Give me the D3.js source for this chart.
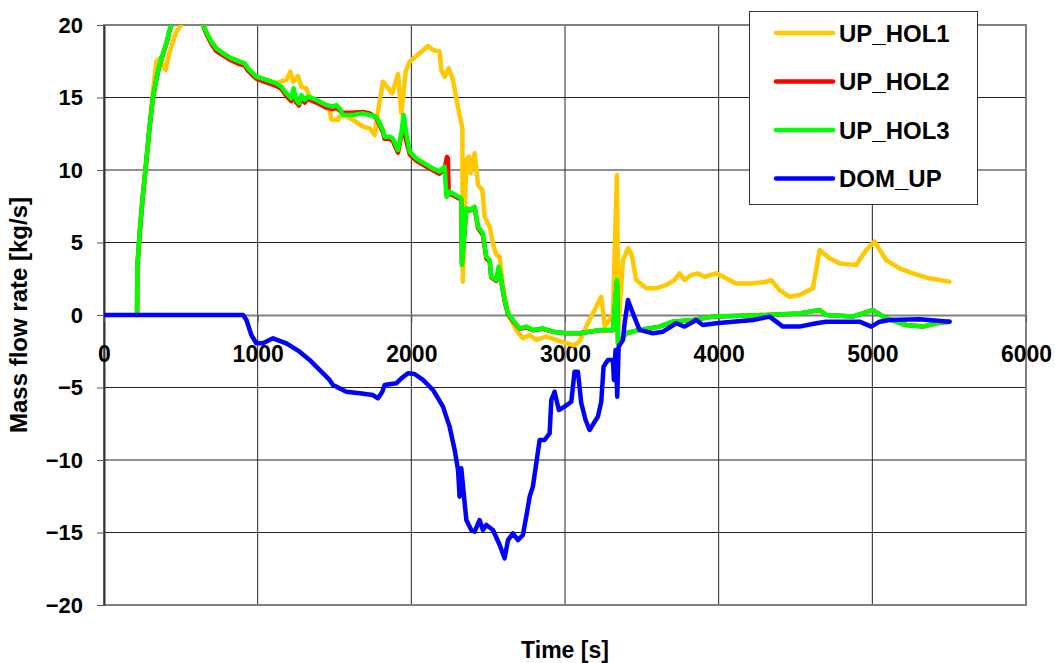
<!DOCTYPE html>
<html>
<head>
<meta charset="utf-8">
<script src="https://cdn.jsdelivr.net/npm/d3@7"></script>
<style>
  body { margin: 0; background: #fff; }
  svg { font-family: "Liberation Sans", Arial, sans-serif; font-weight: bold; }
</style>
</head>
<body>
<svg id="chart" width="1055" height="663"></svg>
<script>
// time [s], mass flow rate [kg/s]
const upHol1 = [[215,0],[217,3.3],[232,5.6],[250,7.9],[276,10.7],[297,13],[319,15.5],[341,17.47],[362,17.7],[380,17.3],[401,16.9],[420,17.8],[438,18.5],[471,19.54],[503,20.0],[540,21.2],[600,21.8],[644,20.0],[666,19.54],[699,18.85],[731,18.39],[775,18.05],[829,17.7],[883,17.47],[915,17.36],[937,17.01],[991,16.44],[1056,16.21],[1121,15.98],[1143,16.09],[1187,16.21],[1213,16.78],[1230,16.09],[1262,16.48],[1284,15.75],[1317,15.63],[1338,15.06],[1403,14.71],[1464,14.37],[1479,13.49],[1523,13.45],[1545,13.91],[1620,13.45],[1685,12.99],[1729,12.87],[1761,12.41],[1783,14.02],[1815,16.09],[1876,15.29],[1913,16.62],[1935,13.91],[1963,16.78],[1989,17.47],[2054,18.05],[2108,18.55],[2141,18.28],[2184,18.16],[2195,16.9],[2217,16.44],[2243,17.01],[2271,16.21],[2303,14.37],[2332,12.87],[2335,2.3],[2358,10.69],[2375,10.92],[2386,9.77],[2412,11.15],[2434,8.97],[2462,8.62],[2477,6.78],[2510,6.09],[2531,4.94],[2553,4.14],[2575,4.02],[2596,1.95],[2629,0.11],[2683,-1.03],[2726,-1.61],[2770,-1.38],[2813,-1.72],[2878,-1.49],[2943,-1.72],[3008,-1.95],[3060,-2.1],[3095,-1.8],[3138,-0.8],[3236,1.26],[3258,-0.8],[3290,-0.34],[3312,0.11],[3323,4.25],[3338,9.66],[3347,-1.03],[3377,3.79],[3410,4.6],[3432,4.25],[3464,2.41],[3529,1.84],[3594,1.84],[3659,2.07],[3713,2.41],[3746,2.87],[3778,2.41],[3821,2.76],[3865,2.87],[3908,2.64],[3984,2.87],[4049,2.53],[4114,2.18],[4223,2.18],[4310,2.3],[4343,2.41],[4396,1.72],[4461,1.26],[4526,1.38],[4613,1.84],[4657,4.48],[4722,3.91],[4787,3.56],[4895,3.45],[4960,4.48],[5014,5.06],[5090,3.79],[5177,3.22],[5264,2.87],[5372,2.53],[5502,2.3]];

const upHol2 = [[215,0],[217,3.3],[232,5.6],[250,7.9],[276,10.7],[297,13],[319,15],[336,16],[358,17.1],[384,18],[406,18.7],[427,19.6],[449,20.3],[500,21.5],[560,22],[620,21],[644,20],[666,19.4],[699,18.7],[731,18.2],[775,17.9],[829,17.55],[883,17.3],[915,17.2],[937,16.85],[991,16.3],[1056,16.05],[1121,15.8],[1154,15.6],[1187,15.1],[1219,14.75],[1234,15.4],[1252,14.65],[1269,14.45],[1284,15.0],[1306,14.65],[1327,14.9],[1382,14.65],[1447,14.3],[1490,14.2],[1512,14.3],[1534,14.1],[1555,13.95],[1620,13.95],[1685,14.0],[1729,13.9],[1772,13.6],[1794,13.1],[1815,12.6],[1826,12.15],[1859,12.15],[1880,12.0],[1913,11.2],[1935,12.4],[1950,13.0],[1967,12.0],[1989,11.1],[2032,10.65],[2119,10.1],[2184,9.75],[2217,10.1],[2232,10.9],[2238,10.8],[2243,8.3],[2249,8.4],[2325,7.95],[2329,3.6],[2358,7.3],[2379,7.2],[2412,7.4],[2434,6.0],[2466,5.5],[2488,3.9],[2510,3.7],[2520,2.6],[2553,2.35],[2568,3.2],[2585,2.35],[2607,0.95],[2629,0.05],[2661,-0.4],[2705,-0.95],[2748,-0.85],[2791,-1.05],[2856,-0.95],[2921,-1.15],[3008,-1.26],[3095,-1.26],[3160,-1.15],[3225,-1.05],[3312,-1.05],[3338,2.3],[3345,-1.95],[3399,-1.26],[3485,-1.03],[3616,-0.8],[3702,-0.46],[3832,-0.34],[3962,-0.11],[4093,-0.07],[4310,0],[4526,0.11],[4657,0.34],[4700,0],[4873,-0.11],[5003,0.34],[5090,-0.23],[5220,-0.69],[5329,-0.8],[5416,-0.57],[5502,-0.46]];

const upHol3 = [[215,0],[217,3.33],[232,5.63],[250,7.93],[276,10.69],[297,12.99],[319,15.06],[336,15.98],[358,17.13],[384,18.05],[406,18.74],[427,19.66],[449,20.3],[500,21.5],[560,22],[620,21],[644,20.0],[666,19.54],[699,18.85],[731,18.39],[775,18.05],[829,17.7],[883,17.47],[915,17.36],[937,17.01],[991,16.44],[1056,16.21],[1121,15.98],[1154,15.75],[1187,15.29],[1219,14.94],[1234,15.63],[1252,14.83],[1269,14.6],[1284,15.17],[1306,14.83],[1327,15.06],[1382,14.83],[1447,14.48],[1490,14.37],[1512,14.48],[1534,14.25],[1555,13.79],[1620,13.79],[1685,13.91],[1729,13.79],[1772,13.68],[1794,13.22],[1815,12.76],[1826,12.3],[1859,12.3],[1880,12.18],[1913,11.38],[1935,12.53],[1950,13.79],[1967,12.53],[1989,11.26],[2032,10.8],[2119,10.23],[2184,9.89],[2217,10.23],[2228,8.16],[2249,8.51],[2325,8.05],[2329,3.45],[2358,7.36],[2379,7.24],[2412,7.47],[2434,6.09],[2466,5.63],[2488,4.02],[2510,3.79],[2520,2.64],[2553,2.41],[2568,3.33],[2585,2.41],[2607,1.03],[2629,0.11],[2661,-0.34],[2705,-0.92],[2748,-0.8],[2791,-1.03],[2856,-0.92],[2921,-1.15],[3008,-1.26],[3095,-1.26],[3160,-1.15],[3225,-1.03],[3312,-1.03],[3338,2.41],[3345,-1.95],[3399,-1.26],[3485,-1.03],[3616,-0.8],[3702,-0.46],[3832,-0.34],[3962,-0.11],[4093,-0.07],[4310,0],[4526,0.11],[4657,0.34],[4700,0],[4873,-0.11],[5003,0.34],[5090,-0.23],[5220,-0.69],[5329,-0.8],[5416,-0.57],[5502,-0.46]];

const domUp = [[0,0],[905,0],[927,-0.34],[959,-1.38],[991,-1.95],[1034,-1.95],[1100,-1.61],[1187,-1.95],[1273,-2.53],[1338,-3.1],[1403,-3.79],[1468,-4.48],[1490,-4.83],[1534,-5.06],[1577,-5.29],[1664,-5.4],[1750,-5.52],[1783,-5.75],[1811,-5.29],[1826,-4.83],[1902,-4.71],[1935,-4.37],[1978,-4.02],[2021,-4.07],[2076,-4.48],[2141,-5.17],[2206,-6.32],[2249,-7.7],[2282,-9.31],[2304,-10.69],[2314,-12.53],[2325,-10.57],[2343,-12.53],[2358,-14.14],[2390,-14.83],[2412,-14.94],[2444,-14.14],[2466,-14.83],[2488,-14.48],[2531,-14.83],[2575,-15.86],[2607,-16.78],[2629,-15.52],[2661,-15.06],[2694,-15.52],[2726,-15.17],[2748,-13.91],[2770,-12.53],[2791,-11.84],[2813,-10.23],[2835,-8.62],[2867,-8.62],[2900,-8.16],[2911,-5.86],[2932,-5.29],[2960,-6.55],[2997,-6.32],[3041,-5.98],[3062,-3.91],[3084,-3.91],[3106,-6.09],[3134,-7.24],[3160,-7.93],[3214,-7.01],[3236,-5.98],[3251,-3.56],[3279,-3.1],[3312,-3.1],[3318,-4.48],[3329,-2.41],[3340,-5.63],[3349,-2.18],[3377,-1.72],[3388,-0.57],[3410,1.03],[3442,0.11],[3485,-1.03],[3572,-1.26],[3637,-1.15],[3724,-0.57],[3778,-0.8],[3854,-0.34],[3897,-0.69],[3984,-0.57],[4093,-0.46],[4223,-0.34],[4331,-0.11],[4375,-0.46],[4418,-0.8],[4526,-0.8],[4635,-0.57],[4700,-0.46],[4917,-0.46],[4993,-0.8],[5047,-0.46],[5112,-0.34],[5307,-0.3],[5502,-0.46]];

const seriesNames = ["UP_HOL1", "UP_HOL2", "UP_HOL3", "DOM_UP"];
const seriesColors = ["#ffc800", "#ff0000", "#00ff00", "#0000ff"];
const seriesData = [upHol1, upHol2, upHol3, domUp];
const xTicks = [0, 1000, 2000, 3000, 4000, 5000, 6000];
const yTicks = [-20, -15, -10, -5, 0, 5, 10, 15, 20];

const svg = d3.select("#chart");
const plot = { left: 104, right: 1026, top: 25, bottom: 605 };

const x = d3.scaleLinear().domain([0, 6000]).range([plot.left, plot.right]);
const y = d3.scaleLinear().domain([-20, 20]).range([plot.bottom, plot.top]);

// grid
const grid = svg.append("g");
grid.selectAll("line.gx")
    .data(xTicks.slice(1, -1))
    .join("line")
    .attr("x1", d => x(d)).attr("x2", d => x(d))
    .attr("y1", plot.top).attr("y2", plot.bottom)
    .attr("stroke", "#222").attr("stroke-width", 1);
grid.selectAll("line.gy")
    .data(yTicks.filter(d => d != 0 && d != 20 && d != -20))
    .join("line")
    .attr("x1", plot.left).attr("x2", plot.right)
    .attr("y1", d => y(d)).attr("y2", d => y(d))
    .attr("stroke", "#222").attr("stroke-width", 1);

// frame
svg.append("rect")
    .attr("x", plot.left).attr("y", plot.top)
    .attr("width", plot.right - plot.left).attr("height", plot.bottom - plot.top)
    .attr("fill", "none").attr("stroke", "#808080").attr("stroke-width", 2);

// y axis
const yAxis = svg.append("g")
    .attr("transform", `translate(${plot.left},0)`)
    .call(d3.axisLeft(y).tickValues(yTicks).tickSize(7).tickPadding(14).tickSizeOuter(0));
yAxis.select(".domain").attr("stroke", "#333").attr("stroke-width", 2);
yAxis.selectAll(".tick line").attr("stroke", "#555");
yAxis.selectAll("text")
    .attr("font-size", 22).attr("font-family", "Liberation Sans, Arial, sans-serif")
    .attr("font-weight", "bold").attr("fill", "#000");

// x axis at y = 0
const xAxis = svg.append("g")
    .attr("transform", `translate(0,${y(0)})`)
    .call(d3.axisBottom(x).tickValues(xTicks).tickFormat(d3.format("d")).tickSize(7).tickSizeOuter(0));
xAxis.select(".domain").attr("stroke", "#808080").attr("stroke-width", 2);
xAxis.selectAll(".tick line").attr("stroke", "#555");
xAxis.selectAll("text")
    .attr("y", 47).attr("dy", null)
    .attr("font-size", 23).attr("font-family", "Liberation Sans, Arial, sans-serif")
    .attr("font-weight", "bold").attr("fill", "#000");

// lines
svg.append("clipPath").attr("id", "clip")
    .append("rect").attr("x", plot.left).attr("y", plot.top)
    .attr("width", plot.right - plot.left).attr("height", plot.bottom - plot.top);

const line = d3.line().x(d => x(d[0])).y(d => y(d[1]));
svg.append("g").attr("clip-path", "url(#clip)")
    .selectAll("path")
    .data(seriesData)
    .join("path")
    .attr("d", line)
    .attr("fill", "none")
    .attr("stroke", (d, i) => seriesColors[i])
    .attr("stroke-width", 4.5)
    .attr("stroke-linejoin", "round")
    .attr("stroke-linecap", "round");

// axis titles
svg.append("text")
    .attr("x", (plot.left + plot.right) / 2).attr("y", 658)
    .attr("text-anchor", "middle")
    .attr("font-size", 23)
    .text("Time [s]");
svg.append("text")
    .attr("transform", `translate(27,${(plot.top + plot.bottom) / 2}) rotate(-90)`)
    .attr("text-anchor", "middle")
    .attr("font-size", 24)
    .text("Mass flow rate [kg/s]");

// legend
const legend = svg.append("g");
legend.append("rect")
    .attr("x", 749.5).attr("y", 11.5).attr("width", 228).attr("height", 193)
    .attr("fill", "#fff").attr("stroke", "#333").attr("stroke-width", 1);
const rows = legend.selectAll("g.row")
    .data(seriesNames)
    .join("g")
    .attr("transform", (d, i) => `translate(0,${33 + i * 48.5})`);
rows.append("line")
    .attr("x1", 776).attr("x2", 833)
    .attr("stroke", (d, i) => seriesColors[i])
    .attr("stroke-width", 4.5).attr("stroke-linecap", "round");
rows.append("text")
    .attr("x", 839).attr("y", 0).attr("dy", "0.36em")
    .attr("font-size", 24)
    .text(d => d);
</script>
</body>
</html>
